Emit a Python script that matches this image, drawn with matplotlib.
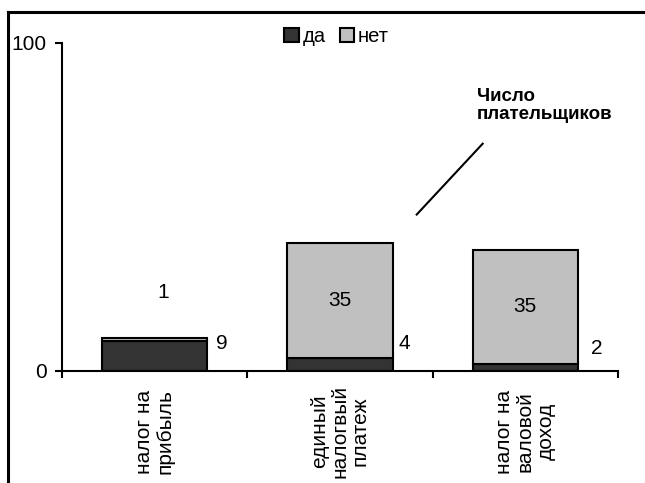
import matplotlib.pyplot as plt
import numpy as np

plt.rcParams['font.family'] = ['Liberation Sans', 'DejaVu Sans']

categories = ['налог на\nприбыль', 'единый\nналогвый\nплатеж', 'налог на\nваловой\nдоход']
da = [9, 4, 2]
net = [1, 35, 35]
da_label = ['9', '4', '2']
net_label = ['1', '35', '35']

fig = plt.figure(figsize=(6.45, 4.83), dpi=100)
ax = fig.add_axes([0.0961, 0.2319, 0.8620, 0.6791])

x = np.arange(len(categories))
w = 0.567
ax.bar(x, da, w, color='#333333', edgecolor='black', linewidth=1.5, label='да')
ax.bar(x, net, w, bottom=da, color='#C0C0C0', edgecolor='black', linewidth=1.5, label='нет')

ax.set_xlim(-0.5, 2.5)
ax.set_ylim(0, 100)
ax.set_yticks([0, 100])
ax.tick_params(axis='y', labelsize=15, width=1.5, length=5, direction='out', pad=6)
ax.set_xticks([-0.5, 0.5, 1.5, 2.5])
ax.set_xticklabels([])
ax.tick_params(axis='x', width=1.5, length=5, direction='out')
for sp in ['top', 'right']:
    ax.spines[sp].set_visible(False)
for sp in ['left', 'bottom']:
    ax.spines[sp].set_linewidth(1.5)

# category labels, rotated
for i, c in enumerate(categories):
    ax.text(i, -18.5, c, rotation=90, ha='center', va='center', fontsize=15,
            multialignment='center', linespacing=1.1)

# data labels as placed in the original
fs = 15
ax.text(0.365, 8.5, da_label[0], fontsize=fs, ha='center', va='center')
ax.text(1.349, 8.5, da_label[1], fontsize=fs, ha='center', va='center')
ax.text(2.386, 7.0, da_label[2], fontsize=fs, ha='center', va='center')
ax.text(0.046, 24.0, net_label[0], fontsize=fs, ha='center', va='center')
ax.text(1.0, 21.6, net_label[1], fontsize=fs, ha='center', va='center')
ax.text(2.0, 19.8, net_label[2], fontsize=fs, ha='center', va='center')

ax.legend(loc='center', bbox_to_anchor=(0.494, 1.021), ncol=2, frameon=False,
          fontsize=14.5, handlelength=0.7, handleheight=0.7, handletextpad=0.2,
          columnspacing=0.7, borderaxespad=0, borderpad=0)

ax.text(1.738, 81, 'Число\nплательщиков', fontsize=13.5, fontweight='bold',
        ha='left', va='center', linespacing=1.1)
ax.plot([1.414, 1.77], [47.7, 69.3], color='black', linewidth=1.5)

# outer frame (cropped)
fig.add_artist(plt.Line2D([0.0124, 0.0124], [0, 0.975], color='black', linewidth=2.2))
fig.add_artist(plt.Line2D([0.0124, 1.0], [0.975, 0.975], color='black', linewidth=2.2))

fig.savefig('out.png', dpi=100)
